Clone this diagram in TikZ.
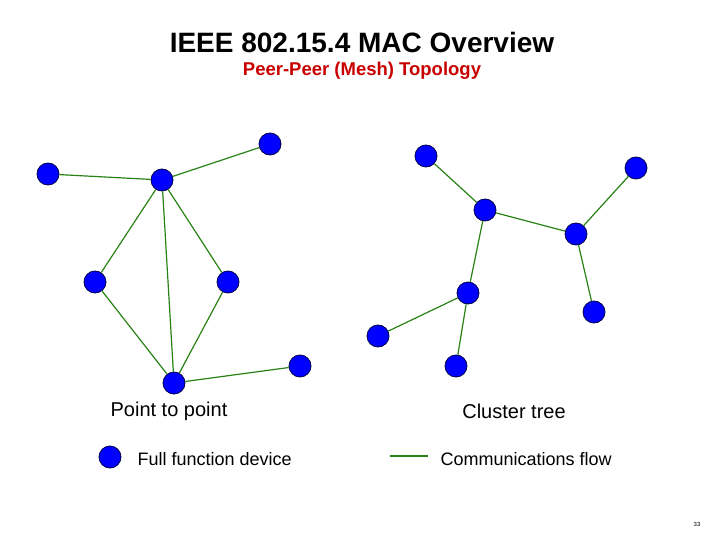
\documentclass[tikz,border=0pt]{standalone}
\usepackage{fontspec}
\setmainfont{Liberation Sans}
\definecolor{edgegreen}{RGB}{40,130,20}
\definecolor{titlered}{RGB}{200,0,0}
\begin{document}
\begin{tikzpicture}[x=1pt,y=-1pt,
  dev/.style={circle,draw=black!70!blue,fill=blue,line width=0.8pt,minimum size=22pt,inner sep=0pt},
  flow/.style={draw=edgegreen,line width=1.2pt}]
\useasboundingbox (0,0) rectangle (720,540);
\foreach \u/\v/\x/\y in {}{}
\node[font=\bfseries\fontsize{28}{32}\selectfont] (title) at (362,42) {IEEE 802.15.4 MAC Overview};
\node[font=\bfseries\fontsize{18.5}{22}\selectfont,text=titlered] (sub) at (362,71) {Peer-Peer (Mesh) Topology};
\foreach \n/\x/\y in {a/48/174,b/162/180,c/270/144,d/95/282,e/228/282,f/174/383,g/300/366,
  h/426/156,i/485/210,j/636/168,k/576/234,l/594/312,m/468/293,n/378/336,o/456/366}
  \node[dev] (\n) at (\x,\y) {};
\foreach \u/\v in {a/b,b/c,b/d,b/e,b/f,d/f,e/f,f/g,h/i,i/k,k/j,k/l,i/m,m/n,m/o}
  \draw[flow] (\u) -- (\v);
\node[font=\fontsize{20}{24}\selectfont] (lp) at (169,411) {Point to point};
\node[font=\fontsize{20}{24}\selectfont] (lc) at (514,411) {Cluster tree};
\node[dev] (leg) at (110,457) {};
\node[font=\fontsize{18}{22}\selectfont,anchor=west] (legt) at (134,459) {Full function device};
\coordinate (l1) at (390,456);
\coordinate (l2) at (428,456);
\draw[flow] (l1) -- (l2);
\node[font=\fontsize{18}{22}\selectfont,anchor=west] (legc) at (437,459) {Communications flow};
\node[font=\fontsize{6}{7}\selectfont] (pg) at (697,524) {33};
\end{tikzpicture}
\end{document}
